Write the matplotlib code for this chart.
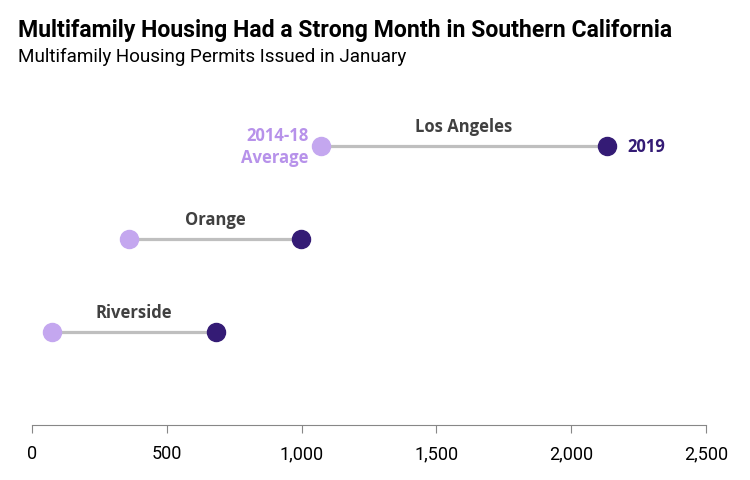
import matplotlib
matplotlib.use('Agg')
import matplotlib.pyplot as plt
from matplotlib.ticker import FuncFormatter

counties = ['Los Angeles', 'Orange', 'Riverside']
avg_1418 = [1072, 360, 74]
permits_2019 = [2133, 998, 682]
xticks = [0, 500, 1000, 1500, 2000, 2500]

light = '#C4A7EF'
dark = '#341B75'
label_light = '#B792EA'
gray_line = '#BFBFBF'
text_gray = '#404040'

narrow = ['Roboto', 'DejaVu Sans']
semi = ['Open Sans', 'Noto Sans', 'DejaVu Sans']

fig = plt.figure(figsize=(7.5, 4.81), dpi=100)
ax = fig.add_axes([32/750, 55/481, 674/750, 326/481])

ypos = [3, 2, 1]
for y, a, b, name in zip(ypos, avg_1418, permits_2019, counties):
    ax.plot([a, b], [y, y], color=gray_line, lw=2.3, zorder=1, solid_capstyle='butt')
    ax.plot(a, y, 'o', color=light, ms=13, zorder=2)
    ax.plot(b, y, 'o', color=dark, ms=13, zorder=2)
    ax.text((a + b) / 2, y + 0.12, name, ha='center', va='bottom', fontsize=12,
            fontweight='bold', color=text_gray, family=semi)

ax.text(avg_1418[0] - 45, ypos[0], '2014-18\nAverage', ha='right', va='center',
        fontsize=12, fontweight='bold', color=label_light, family=semi, linespacing=1.25)
ax.text(permits_2019[0] + 75, ypos[0], '2019', ha='left', va='center',
        fontsize=12, fontweight='bold', color=dark, family=semi)

ax.set_xlim(0, 2500)
ax.set_ylim(0, 326/93)
ax.set_xticks(xticks)
ax.xaxis.set_major_formatter(FuncFormatter(lambda v, p: f'{int(v):,}'))
ax.set_yticks([])
for s in ['top', 'right', 'left']:
    ax.spines[s].set_visible(False)
ax.spines['bottom'].set_color('#878787')
ax.tick_params(axis='x', colors='#878787', length=6, pad=8, labelsize=13, labelcolor='black')
for lbl in ax.get_xticklabels():
    lbl.set_family(narrow)

fig.text(18/750, 1 - 30/481, 'Multifamily Housing Had a Strong Month in Southern California',
         fontsize=16.6, fontweight='bold', family=narrow, va='center', ha='left')
fig.text(18/750, 1 - 57/481, 'Multifamily Housing Permits Issued in January',
         fontsize=13.6, family=narrow, va='center', ha='left')

fig.savefig('out.png', dpi=100)
